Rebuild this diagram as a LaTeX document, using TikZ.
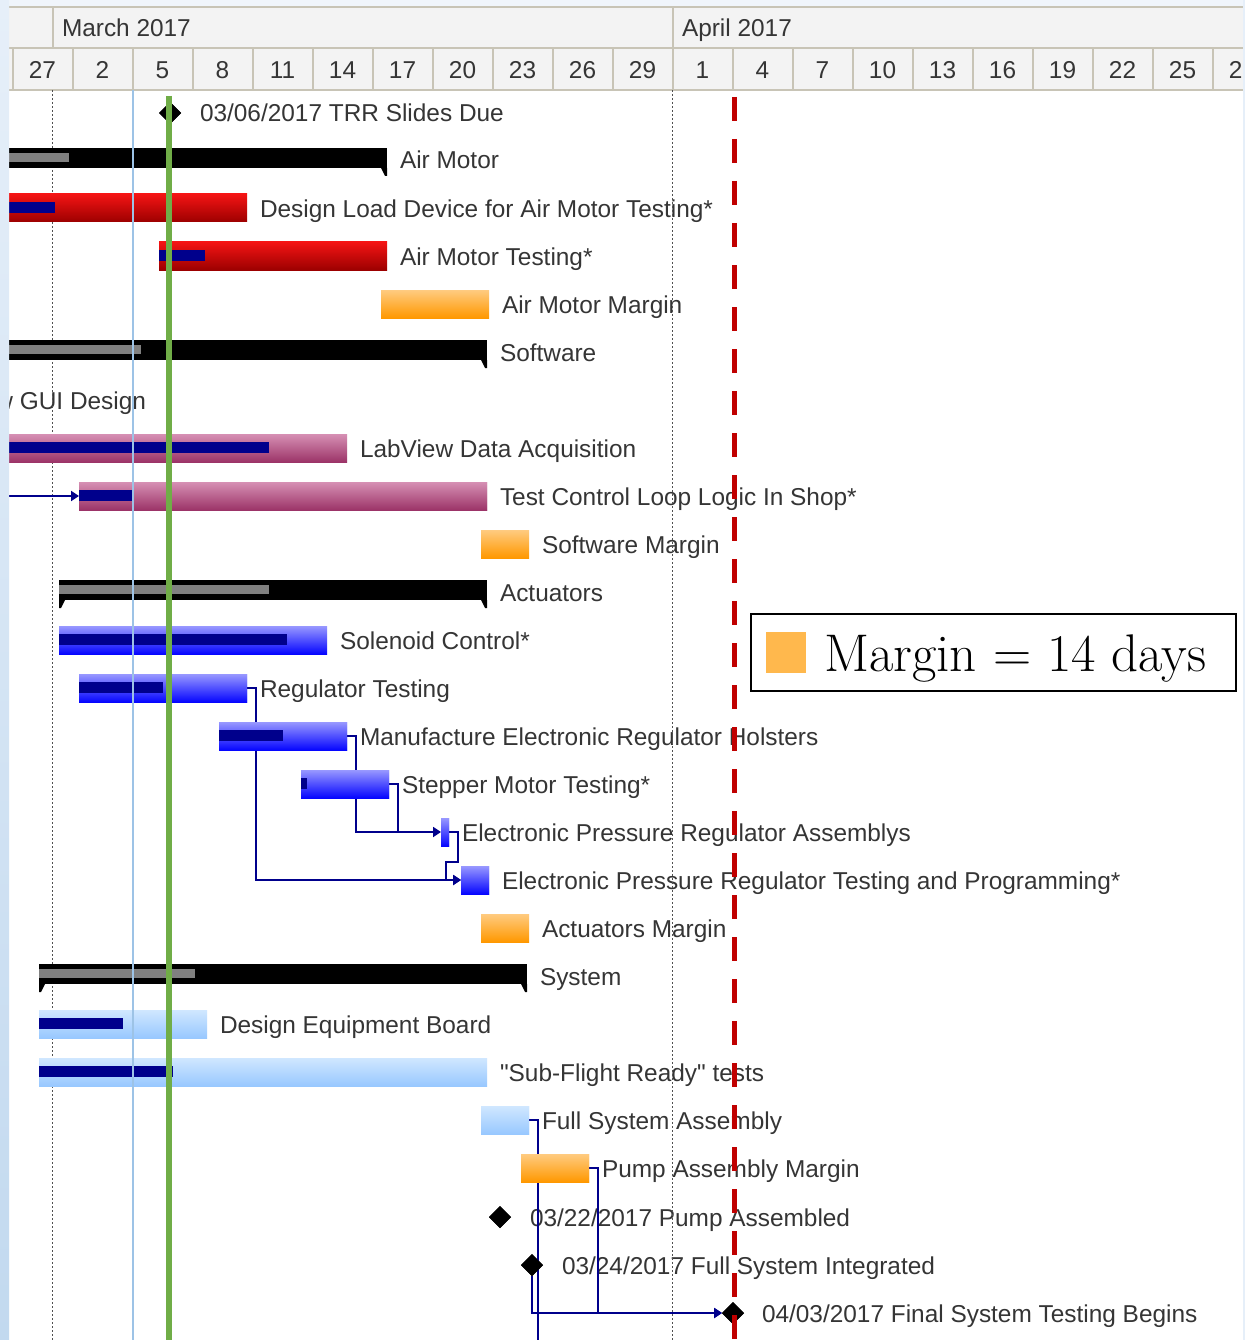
\documentclass[tikz,border=0pt]{standalone}
\usepackage{fontspec}
\newfontfamily\arialf{Liberation Sans}
\usetikzlibrary{arrows.meta,shapes.geometric}
\definecolor{TextC}{HTML}{353535}
\definecolor{RedT}{HTML}{F41414}
\definecolor{RedB}{HTML}{9C0000}
\definecolor{PinkT}{HTML}{D690B4}
\definecolor{PinkB}{HTML}{9C3468}
\definecolor{BlueT}{HTML}{9898FF}
\definecolor{BlueB}{HTML}{0606FF}
\definecolor{OrT}{HTML}{FFCB80}
\definecolor{OrB}{HTML}{FF9800}
\definecolor{LbT}{HTML}{D0E7FF}
\definecolor{LbB}{HTML}{98C8FF}
\definecolor{Navy}{HTML}{00008C}
\definecolor{SumGray}{HTML}{808080}
\definecolor{HeadBg}{HTML}{F3F3F3}
\definecolor{HeadLn}{HTML}{C8C4B6}
\definecolor{GreenL}{HTML}{70AD47}
\definecolor{RedD}{HTML}{C00000}
\definecolor{LBlueL}{HTML}{9DC3E6}
\definecolor{DotC}{HTML}{505050}
\definecolor{LegOr}{HTML}{FFB84D}
\definecolor{StripT}{HTML}{E6EFF9}
\definecolor{StripB}{HTML}{C2D9EF}
\begin{document}
\begin{tikzpicture}[x=1pt,y=-1pt,
  font=\arialf\fontsize{24.4}{28}\selectfont,
  lbl/.style={anchor=base west, inner sep=0, outer sep=0, text=TextC},
  lblr/.style={anchor=base east, inner sep=0, outer sep=0, text=TextC},
  hd/.style={anchor=base, inner sep=0, text=TextC},
  bar/.style={rectangle, inner sep=0, outer sep=0, minimum height=28, anchor=west},
  redbar/.style={bar, top color=RedT, bottom color=RedB},
  pinkbar/.style={bar, top color=PinkT, bottom color=PinkB},
  bluebar/.style={bar, top color=BlueT, bottom color=BlueB},
  orbar/.style={bar, top color=OrT, bottom color=OrB},
  lbbar/.style={bar, top color=LbT, bottom color=LbB},
  prog/.style={rectangle, inner sep=0, outer sep=0, minimum height=11, anchor=west, fill=Navy},
  sumbar/.style={rectangle, inner sep=0, outer sep=0, minimum height=20, anchor=west, fill=black},
  sumprog/.style={rectangle, inner sep=0, outer sep=0, minimum height=9, anchor=west, fill=SumGray},
  ms/.style={diamond, fill=black, inner sep=0, outer sep=0, minimum width=22, minimum height=22},
  link/.style={draw=Navy, line width=1.8},
  arr/.style={link, -{Triangle[length=8pt,width=10pt]}}
]
\useasboundingbox (0,0) rectangle (1245,1340);
\fill[StripT!60!white] (0,0) rectangle (1245,1340);
\fill[white] (9,90) rectangle (1245,1340);

\begin{scope}
\clip (9,0) rectangle (1243,1340);
% header
\fill[HeadBg] (9,7) rectangle (1245,90);
\draw[HeadLn, line width=2] (9,7) -- (1245,7) (9,48) -- (1245,48) (9,90) -- (1245,90);
\draw[HeadLn, line width=2] (52.5,7) -- (52.5,48) (672.5,7) -- (672.5,48);
\foreach \k in {0,...,20} \draw[HeadLn, line width=2] (12.5+60*\k,48) -- (12.5+60*\k,90);
\node[lbl] (mar) at (62,36.5) {March 2017};
\node[lbl] (apr) at (682,36.5) {April 2017};
\foreach \d [count=\i from 0] in {27,2,5,8,11,14,17,20,23,26,29,1,4,7,10,13,16,19,22,25,28}
  \node[hd] (day\i) at (42.5+60*\i,78.5) {\d};

% text labels
\node[lbl] (t0) at (200,122) {03/06/2017 TRR Slides Due};
\node[lbl] (t1) at (400,168.5) {Air Motor};
\node[lbl] (t2) at (260,217.5) {Design Load Device for Air Motor Testing*};
\node[lbl] (t3) at (400,265.5) {Air Motor Testing*};
\node[lbl] (t4) at (502,313.5) {Air Motor Margin};
\node[lbl] (t5) at (500,361.5) {Software};
\node[lblr] (t6) at (146,409.5) {LabView GUI Design};
\node[lbl] (t7) at (360,457.5) {LabView Data Acquisition};
\node[lbl] (t8) at (500,505.5) {Test Control Loop Logic In Shop*};
\node[lbl] (t9) at (542,553.5) {Software Margin};
\node[lbl] (t10) at (500,601.5) {Actuators};
\node[lbl] (t11) at (340,649.5) {Solenoid Control*};
\node[lbl] (t12) at (260,697.5) {Regulator Testing};
\node[lbl] (t13) at (360,745.5) {Manufacture Electronic Regulator Holsters};
\node[lbl] (t14) at (402,793.5) {Stepper Motor Testing*};
\node[lbl] (t15) at (462,841.5) {Electronic Pressure Regulator Assemblys};
\node[lbl] (t16) at (502,889.5) {Electronic Pressure Regulator Testing and Programming*};
\node[lbl] (t17) at (542,937.5) {Actuators Margin};
\node[lbl] (t18) at (540,985.5) {System};
\node[lbl] (t19) at (220,1033.5) {Design Equipment Board};
\node[lbl] (t20) at (500,1081.5) {"Sub-Flight Ready" tests};
\node[lbl] (t21) at (542,1129.5) {Full System Assembly};
\node[lbl] (t22) at (602,1177.5) {Pump Assembly Margin};
\node[lbl] (t23) at (530,1226) {03/22/2017 Pump Assembled};
\node[lbl] (t24) at (562,1274) {03/24/2017 Full System Integrated};
\node[lbl] (t25) at (762,1322) {04/03/2017 Final System Testing Begins};

% month boundary lines
\draw[DotC, line width=1.6, dash pattern=on 2pt off 2pt] (52.5,90) -- (52.5,1340);
\draw[DotC, line width=1.6, dash pattern=on 2pt off 2pt] (672.5,90) -- (672.5,1340);

% milestones (positions)
\node[ms] (m0) at (170,113) {};
\node[ms] (m23) at (500,1217) {};
\node[ms] (m24) at (532,1265) {};
\node[ms] (m25) at (733,1313) {};

% bar nodes defined first (for links), drawn below
\path
  node[bluebar, minimum width=168] (b12) at (79,688) {}
  node[bluebar, minimum width=128] (b13) at (219,736) {}
  node[bluebar, minimum width=88] (b14) at (301,784) {}
  node[bluebar, minimum width=8] (b15) at (441,832) {}
  node[bluebar, minimum width=28] (b16) at (461,880) {}
  node[lbbar, minimum width=48] (b21) at (481,1120) {}
  node[orbar, minimum width=68] (b22) at (521,1168) {}
  node[pinkbar, minimum width=408] (b8) at (79,496) {};

% links
\coordinate (in8) at (0,496);
\coordinate (off21) at (538,1352);
\draw[arr] (in8) -- (b8.west);
\draw[arr] (b12.east) -- ++(9,0) |- (b16.west);
\draw[arr] (b13.east) -- ++(9,0) |- (b15.west);
\draw[link] (b14.east) -- ++(9,0) |- ([xshift=-6pt]b15.west);
\draw[arr] (b15.east) -- ++(9,0) -- ++(0,30) -- ++(-12,0) |- (b16.west);
\draw[link] (b21.east) -| (off21);
\draw[arr] (b22.east) -- ++(9,0) |- (m25.west);
\draw[arr] (m24.south) |- (m25.west);

% bars
\node[sumbar, minimum width=387] (b1) at (0,158) {};
\node[sumprog, minimum width=69] (p1) at (0,157.5) {};
\node[redbar, minimum width=247] (b2) at (0,208) {};
\node[prog, minimum width=55] (p2) at (0,207.5) {};
\node[redbar, minimum width=228] (b3) at (159,256) {};
\node[prog, minimum width=46] (p3) at (159,255.5) {};
\node[orbar, minimum width=108] (b4) at (381,304) {};
\node[sumbar, minimum width=487] (b5) at (0,350) {};
\node[sumprog, minimum width=141] (p5) at (0,349.5) {};
\node[pinkbar, minimum width=347] (b7) at (0,448) {};
\node[prog, minimum width=269] (p7) at (0,447.5) {};
\node[pinkbar, minimum width=408] at (79,496) {};
\node[prog, minimum width=54] (p8) at (79,495.5) {};
\node[orbar, minimum width=48] (b9) at (481,544) {};
\node[sumbar, minimum width=428] (b10) at (59,590) {};
\node[sumprog, minimum width=210] (p10) at (59,589.5) {};
\node[bluebar, minimum width=268] (b11) at (59,640) {};
\node[prog, minimum width=228] (p11) at (59,639.5) {};
\node[bluebar, minimum width=168] at (79,688) {};
\node[prog, minimum width=84] (p12) at (79,687.5) {};
\node[bluebar, minimum width=128] at (219,736) {};
\node[prog, minimum width=64] (p13) at (219,735.5) {};
\node[bluebar, minimum width=88] at (301,784) {};
\node[prog, minimum width=6] (p14) at (301,783.5) {};
\node[bluebar, minimum width=8] at (441,832) {};
\node[bluebar, minimum width=28] at (461,880) {};
\node[orbar, minimum width=48] (b17) at (481,928) {};
\node[sumbar, minimum width=488] (b18) at (39,974) {};
\node[sumprog, minimum width=156] (p18) at (39,973.5) {};
\node[lbbar, minimum width=168] (b19) at (39,1024) {};
\node[prog, minimum width=84] (p19) at (39,1023.5) {};
\node[lbbar, minimum width=448] (b20) at (39,1072) {};
\node[prog, minimum width=134] (p20) at (39,1071.5) {};
\node[lbbar, minimum width=48] at (481,1120) {};
\node[orbar, minimum width=68] at (521,1168) {};
% summary tips
\fill (b1.south east) -- ++(-6,0) -- ++(4,8) -- ++(2,0) -- cycle;
\fill (b5.south east) -- ++(-6,0) -- ++(4,8) -- ++(2,0) -- cycle;
\fill (b10.south east) -- ++(-6,0) -- ++(4,8) -- ++(2,0) -- cycle;
\fill (b10.south west) -- ++(6,0) -- ++(-4,8) -- ++(-2,0) -- cycle;
\fill (b18.south east) -- ++(-6,0) -- ++(4,8) -- ++(2,0) -- cycle;
\fill (b18.south west) -- ++(6,0) -- ++(-4,8) -- ++(-2,0) -- cycle;
% milestones drawn
\node[ms] at (170,113) {};
\node[ms] at (500,1217) {};
\node[ms] at (532,1265) {};
\node[ms] at (733,1313) {};

% status lines
\draw[LBlueL, line width=2] (132.5,90) -- (132.5,1340);
\draw[GreenL, line width=6] (169,96) -- (169,1340);
\draw[RedD, line width=5.5, dash pattern=on 24pt off 18pt] (734.5,97) -- (734.5,1340);
\end{scope}

% legend
\node[draw=black, line width=1.5, fill=white, minimum width=485, minimum height=77, inner sep=0] (leg) at (993.5,652.5) {};
\node[fill=LegOr, minimum width=40, minimum height=41, inner sep=0] (legsq) at (786,652) {};
\node[anchor=base west, inner sep=0, font=\rmfamily\fontsize{53}{58}\selectfont] (legt) at (824,671) {Margin = 14 days};

% window strips
\shade[top color=StripT, bottom color=StripB] (0,0) rectangle (9,1340);
\fill[StripT] (1243,0) rectangle (1245,1340);
\end{tikzpicture}
\end{document}
